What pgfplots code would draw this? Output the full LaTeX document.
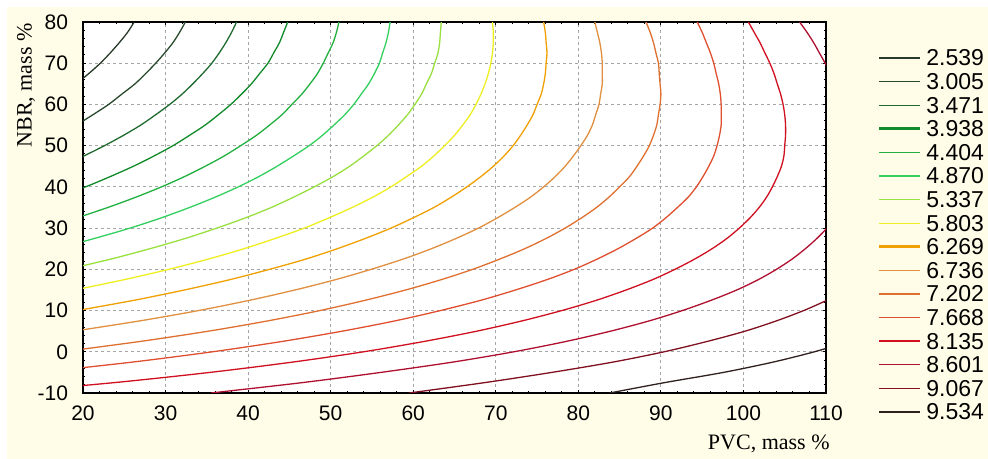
\documentclass[border=0pt]{standalone}
\usepackage{fontspec}
\setmainfont{Liberation Sans}
\newfontfamily\seriffont{Liberation Serif}
\usepackage{pgfplots}
\pgfplotsset{compat=1.18}

\definecolor{bgcream}{RGB}{255,253,231}
\definecolor{c1}{HTML}{2A3A2A}
\definecolor{c2}{HTML}{2A4A2E}
\definecolor{c3}{HTML}{1F6A2F}
\definecolor{c4}{HTML}{118A2A}
\definecolor{c5}{HTML}{22B040}
\definecolor{c6}{HTML}{33D060}
\definecolor{c7}{HTML}{99E040}
\definecolor{c8}{HTML}{EEEE20}
\definecolor{c9}{HTML}{F0A000}
\definecolor{c10}{HTML}{E09040}
\definecolor{c11}{HTML}{E07030}
\definecolor{c12}{HTML}{E05030}
\definecolor{c13}{HTML}{D01020}
\definecolor{c14}{HTML}{B01030}
\definecolor{c15}{HTML}{801020}
\definecolor{c16}{HTML}{302020}

\begin{document}
\begin{tikzpicture}
\path[use as bounding box] (0,0) rectangle (494pt,229.5pt);
\begin{scope}[x=0.5pt,y=0.5pt]
  \fill[bgcream] (0,0) rectangle (988,459);
  \fill[white] (0,452) rectangle (988,459);
  \fill[white] (0,0) rectangle (7,459);
\end{scope}

\begin{axis}[
  at={(41.5pt,33pt)}, anchor=south west,
  width=371.5pt, height=185.5pt, scale only axis,
  xmin=20, xmax=110, ymin=-10, ymax=80,
  xtick={20,30,...,110}, ytick={-10,0,...,80},
  minor x tick num=4, minor y tick num=4,
  tick align=inside, tick pos=both,
  major tick length=1.6pt, minor tick length=1pt,
  tick style={black, line width=0.5pt},
  axis line style={black, line width=1pt},
  axis background/.style={fill=white},
  grid=major,
  major grid style={gray!70, dash pattern=on 1.5pt off 1.5pt, line width=0.4pt},
  /pgf/number format/assume math mode=true,
  tick label style={font=\fontsize{10.5}{12}\selectfont},
  xticklabel style={yshift=-3pt},
  yticklabel style={xshift=-4pt},
  every axis plot/.append style={line width=0.65pt, smooth},
]
%% 2.539
\addplot[c1] coordinates {(19.2,65) (20.7,67.5) (22.1,70) (23.3,72.5) (24.4,75) (25.4,77.5) (26.2,80)};
%% 3.005
\addplot[c2] coordinates {(19.2,55) (21.2,57.5) (23.1,60) (24.7,62.5) (26.3,65) (27.6,67.5) (28.8,70) (29.9,72.5) (30.9,75) (31.7,77.5) (32.4,80)};
%% 3.471
\addplot[c3] coordinates {(17.4,45) (20.1,47.5) (22.6,50) (24.9,52.5) (27.0,55) (28.8,57.5) (30.5,60) (32.0,62.5) (33.3,65) (34.5,67.5) (35.6,70) (36.5,72.5) (37.3,75) (38.0,77.5) (38.6,80)};
%% 3.938
\addplot[c4] coordinates {(16.9,37.5) (20.3,40) (23.3,42.5) (26.1,45) (28.6,47.5) (30.9,50) (32.9,52.5) (34.8,55) (36.4,57.5) (37.9,60) (39.2,62.5) (40.4,65) (41.4,67.5) (42.4,70) (43.1,72.5) (43.8,75) (44.3,77.5) (44.8,80)};
%% 4.404
\addplot[c5] coordinates {(19.3,32.5) (23.0,35) (26.4,37.5) (29.5,40) (32.3,42.5) (34.8,45) (37.1,47.5) (39.1,50) (41.0,52.5) (42.6,55) (44.1,57.5) (45.3,60) (46.5,62.5) (47.5,65) (48.4,67.5) (49.1,70) (49.7,72.5) (50.3,75) (50.7,77.5) (51.0,80)};
%% 4.870
\addplot[c6] coordinates {(16.8,25) (21.4,27.5) (25.7,30) (29.5,32.5) (32.9,35) (36.0,37.5) (38.8,40) (41.3,42.5) (43.5,45) (45.5,47.5) (47.4,50) (49.0,52.5) (50.4,55) (51.7,57.5) (52.8,60) (53.7,62.5) (54.6,65) (55.3,67.5) (55.9,70) (56.3,72.5) (56.7,75) (57.0,77.5) (57.2,80)};
%% 5.337
\addplot[c7] coordinates {(18.1,20) (23.4,22.5) (28.1,25) (32.4,27.5) (36.2,30) (39.7,32.5) (42.8,35) (45.5,37.5) (48.0,40) (50.3,42.5) (52.3,45) (54.0,47.5) (55.6,50) (57.0,52.5) (58.2,55) (59.3,57.5) (60.2,60) (61.0,62.5) (61.6,65) (62.2,67.5) (62.6,70) (63.0,72.5) (63.2,75) (63.3,77.5) (63.4,80)};
%% 5.803
\addplot[c8] coordinates {(19.0,15) (25.0,17.5) (30.4,20) (35.2,22.5) (39.5,25) (43.3,27.5) (46.8,30) (49.8,32.5) (52.6,35) (55.1,37.5) (57.3,40) (59.2,42.5) (61.0,45) (62.5,47.5) (63.8,50) (65.0,52.5) (66.0,55) (66.9,57.5) (67.6,60) (68.2,62.5) (68.7,65) (69.1,67.5) (69.4,70) (69.6,72.5) (69.7,75) (69.7,77.5) (69.6,80)};
%% 6.269
\addplot[c9] coordinates {(19.3,10) (26.2,12.5) (32.3,15) (37.8,17.5) (42.6,20) (47.0,22.5) (50.8,25) (54.2,27.5) (57.3,30) (60.0,32.5) (62.5,35) (64.6,37.5) (66.5,40) (68.2,42.5) (69.7,45) (71.0,47.5) (72.1,50) (73.0,52.5) (73.8,55) (74.5,57.5) (75.0,60) (75.5,62.5) (75.8,65) (76.0,67.5) (76.1,70) (76.2,72.5) (76.1,75) (76.0,77.5) (75.8,80)};
%% 6.736
\addplot[c10] coordinates {(18.9,5) (26.9,7.5) (34.0,10) (40.2,12.5) (45.7,15) (50.6,17.5) (54.9,20) (58.8,22.5) (62.2,25) (65.2,27.5) (67.9,30) (70.2,32.5) (72.3,35) (74.2,37.5) (75.8,40) (77.2,42.5) (78.4,45) (79.4,47.5) (80.3,50) (81.1,52.5) (81.7,55) (82.1,57.5) (82.5,60) (82.7,62.5) (82.9,65) (82.9,67.5) (82.9,70) (82.8,72.5) (82.6,75) (82.3,77.5) (82.0,80)};
%% 7.202
\addplot[c11] coordinates {(17.5,0) (26.9,2.5) (35.2,5) (42.4,7.5) (48.7,10) (54.2,12.5) (59.1,15) (63.4,17.5) (67.2,20) (70.5,22.5) (73.5,25) (76.1,27.5) (78.4,30) (80.4,32.5) (82.2,35) (83.7,37.5) (85.0,40) (86.2,42.5) (87.1,45) (87.9,47.5) (88.6,50) (89.1,52.5) (89.5,55) (89.7,57.5) (89.9,60) (90.0,62.5) (89.9,65) (89.8,67.5) (89.7,70) (89.4,72.5) (89.1,75) (88.7,77.5) (88.2,80)};
%% 7.668
\addplot[c12] coordinates {(14.7,-5) (26.0,-2.5) (35.7,0) (44.1,2.5) (51.4,5) (57.8,7.5) (63.3,10) (68.2,12.5) (72.4,15) (76.2,17.5) (79.5,20) (82.3,22.5) (84.8,25) (87.0,27.5) (89.0,30) (90.6,32.5) (92.0,35) (93.3,37.5) (94.3,40) (95.1,42.5) (95.8,45) (96.4,47.5) (96.8,50) (97.1,52.5) (97.3,55) (97.3,57.5) (97.3,60) (97.2,62.5) (97.0,65) (96.7,67.5) (96.4,70) (96.0,72.5) (95.5,75) (95.0,77.5) (94.4,80)};
%% 8.135
\addplot[c13] coordinates {(9.7,-10) (23.7,-7.5) (35.4,-5) (45.4,-2.5) (54.0,0) (61.3,2.5) (67.7,5) (73.2,7.5) (78.0,10) (82.2,12.5) (85.8,15) (89.0,17.5) (91.7,20) (94.1,22.5) (96.2,25) (98.0,27.5) (99.5,30) (100.8,32.5) (101.9,35) (102.8,37.5) (103.5,40) (104.1,42.5) (104.6,45) (104.9,47.5) (105.0,50) (105.1,52.5) (105.1,55) (105.0,57.5) (104.8,60) (104.5,62.5) (104.1,65) (103.7,67.5) (103.2,70) (102.6,72.5) (102.0,75) (101.3,77.5) (100.6,80)};
%% 8.601 (two pieces)
\addplot[c14] coordinates {(106.8,80) (107.7,77.5) (108.5,75) (109.2,72.5) (109.9,70) (110.6,67.5)};
\addplot[c14] coordinates {(111.0,32.5) (110.1,30) (108.9,27.5) (107.5,25) (105.9,22.5) (104.0,20) (101.8,17.5) (99.2,15) (96.1,12.5) (92.6,10) (88.6,7.5) (83.9,5) (78.5,2.5) (72.2,0) (64.8,-2.5) (56.1,-5) (46.5,-7.5) (35.5,-10)};
%% 9.067
\addplot[c15] coordinates {(112.5,15) (110.1,12.5) (107.3,10) (104.0,7.5) (100.2,5) (95.6,2.5) (90.4,0) (84.2,-2.5) (76.8,-5) (68.6,-7.5) (59.5,-10)};
%% 9.534
\addplot[c16] coordinates {(112.8,2.5) (108.6,0) (103.6,-2.5) (97.6,-5) (90.4,-7.5) (83.8,-10)};
\end{axis}

\begin{scope}[x=0.5pt,y=0.5pt]
  \node[rotate=90, anchor=east, inner sep=0, font=\seriffont\fontsize{11}{13}\selectfont] at (26,436) {NBR, mass \%};
  \node[anchor=base east, inner sep=0, font=\seriffont\fontsize{11}{13}\selectfont] at (830,9) {PVC, mass \%};
  \foreach \c/\v/\w [count=\i from 0] in {c1/2.539/0.6, c2/3.005/0.6, c3/3.471/0.6, c4/3.938/1.3, c5/4.404/0.7, c6/4.870/0.7, c7/5.337/0.6, c8/5.803/0.6, c9/6.269/1.3, c10/6.736/0.6, c11/7.202/0.6, c12/7.668/0.6, c13/8.135/1.3, c14/8.601/0.6, c15/9.067/0.6, c16/9.534/0.6} {
    \pgfmathsetmacro\yy{401-\i*23.6}
    \draw[\c, line width=\w pt] (879,\yy) -- (920,\yy);
    \node[anchor=west, inner sep=0, font=\fontsize{11.5}{12}\selectfont] at (926,\yy) {\v};
  }
\end{scope}
\end{tikzpicture}
\end{document}
